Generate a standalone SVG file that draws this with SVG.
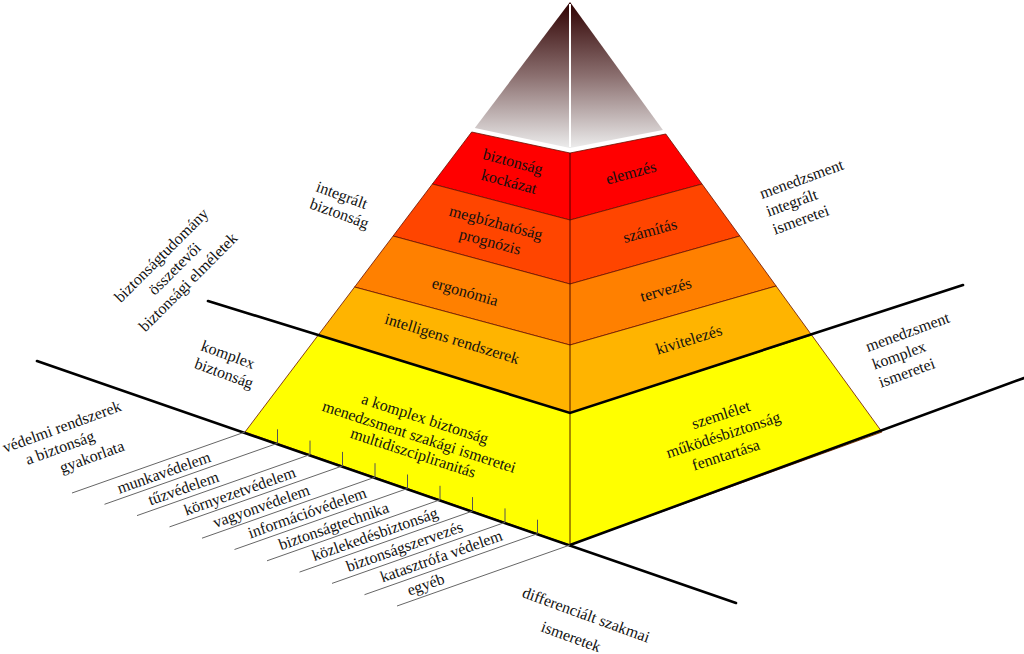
<svg xmlns="http://www.w3.org/2000/svg" width="1024" height="654" viewBox="0 0 1024 654">
<defs>
<linearGradient id="gtop" x1="0" y1="2" x2="0" y2="148" gradientUnits="userSpaceOnUse">
<stop offset="0" stop-color="#2e0000"/>
<stop offset="0.5" stop-color="#8a6e6e"/>
<stop offset="1" stop-color="#ececec"/>
</linearGradient>
<style>
.t{font-family:"Liberation Serif","Times New Roman",serif;font-size:16px;fill:#111}
.m{text-anchor:middle}
.band{stroke:#6a1000;stroke-width:0.8;stroke-linejoin:round}
.heavy{stroke:#000;stroke-width:2.6;fill:none;stroke-linecap:round;stroke-linejoin:miter}
.thin{stroke:#666;stroke-width:1;fill:none}
.tick{stroke:#555;stroke-width:1;fill:none}
</style>
</defs>
<rect width="1024" height="654" fill="#fff"/>

<g id="apex">
<polygon points="570,2 662.9,130 570,148 474.8,128" fill="url(#gtop)"/>
<line x1="570" y1="4" x2="570" y2="147" stroke="#fff" stroke-width="2"/>
</g>

<g id="band-kockazat">
<polygon class="band" points="471.7,132 570,153 665.8,134 702,184 570,220 432.4,184" fill="#ff0000"/>
<text class="t m" transform="translate(511.7,166.8) rotate(15)">biztonság</text>
<text class="t m" transform="translate(507.7,186.8) rotate(15)">kockázat</text>
<text class="t m" transform="translate(632.3,177.8) rotate(-15)">elemzés</text>
</g>

<g id="band-megbizhatosag">
<polygon class="band" points="432.4,184 570,220 702,184 739.8,236 570,284 393.1,236" fill="#ff4500"/>
<text class="t m" transform="translate(494.7,227.8) rotate(15)">megbízhatóság</text>
<text class="t m" transform="translate(488.7,246.8) rotate(15)">prognózis</text>
<text class="t m" transform="translate(651.3,235.8) rotate(-15)">számítás</text>
</g>

<g id="band-ergonomia">
<polygon class="band" points="393.1,236 570,284 739.8,236 776.1,286 570,345 354.6,287" fill="#ff8000"/>
<text class="t m" transform="translate(463.7,296.8) rotate(16)">ergonómia</text>
<text class="t m" transform="translate(667.3,294.8) rotate(-16)">tervezés</text>
</g>

<g id="band-intelligens">
<polygon class="band" points="354.6,287 570,345 776.1,286 811.6,335 570,413 318.3,335" fill="#ffb400"/>
<text class="t m" transform="translate(450.6,343.8) rotate(17)">intelligens rendszerek</text>
<text class="t m" transform="translate(690.4,344.8) rotate(-17)">kivitelezés</text>
</g>

<g id="band-komplex">
<polygon class="band" points="318.3,335 570,413 811.6,335 882,432 570,545 245,432" fill="#ffff00"/>
<text class="t m" transform="translate(423.5,423.8) rotate(18)">a komplex biztonság</text>
<text class="t m" transform="translate(417.5,441.8) rotate(18)">menedzsment szakági ismeretei</text>
<text class="t m" transform="translate(411.5,457.8) rotate(18)">multidiszcipliranitás</text>
<text class="t m" transform="translate(722.5,419.8) rotate(-18)">szemlélet</text>
<text class="t m" transform="translate(725,439.8) rotate(-18)">működésbiztonság</text>
<text class="t m" transform="translate(727.5,459.8) rotate(-18)">fenntartása</text>
</g>

<g id="connectors">
<line x1="570" y1="153" x2="570" y2="545" stroke="#3a0000" stroke-width="0.9"/>
<polyline class="heavy" points="208,301 570,413 963,285"/>
<line class="heavy" x1="37" y1="361" x2="736" y2="603"/>
<line class="heavy" x1="570" y1="545" x2="1024" y2="378"/>
<g class="tick">
<line x1="277.5" y1="443.3" x2="277.5" y2="429.3"/>
<line x1="310" y1="454.6" x2="310" y2="440.6"/>
<line x1="342.5" y1="465.9" x2="342.5" y2="451.9"/>
<line x1="375" y1="477.2" x2="375" y2="463.2"/>
<line x1="407.5" y1="488.5" x2="407.5" y2="474.5"/>
<line x1="440" y1="499.8" x2="440" y2="485.8"/>
<line x1="472.5" y1="511.1" x2="472.5" y2="497.1"/>
<line x1="505" y1="522.4" x2="505" y2="508.4"/>
<line x1="537.5" y1="533.7" x2="537.5" y2="519.7"/>
</g>
<g class="thin">
<line x1="245" y1="432" x2="72" y2="493"/>
<line x1="277.5" y1="443.3" x2="104.5" y2="504.3"/>
<line x1="310" y1="454.6" x2="137" y2="515.6"/>
<line x1="342.5" y1="465.9" x2="169.5" y2="526.9"/>
<line x1="375" y1="477.2" x2="202" y2="538.2"/>
<line x1="407.5" y1="488.5" x2="234.5" y2="549.5"/>
<line x1="440" y1="499.8" x2="267" y2="560.8"/>
<line x1="472.5" y1="511.1" x2="299.5" y2="572.1"/>
<line x1="505" y1="522.4" x2="332" y2="583.4"/>
<line x1="537.5" y1="533.7" x2="364.5" y2="594.7"/>
<line x1="570" y1="545" x2="397" y2="606"/>
</g>
</g>

<g id="list-labels" transform="translate(245,432) rotate(-19.42)">
<text class="t m" x="-90" y="16.5">munkavédelem</text>
<text class="t m" x="-76.8" y="37.9">tűzvédelem</text>
<text class="t m" x="-24.7" y="59.3">környezetvédelem</text>
<text class="t m" x="-9.3" y="80.7">vagyonvédelem</text>
<text class="t m" x="31.8" y="102.1">információvédelem</text>
<text class="t m" x="52.3" y="123.5">biztonságtechnika</text>
<text class="t m" x="88.5" y="144.9">közlekedésbiztonság</text>
<text class="t m" x="112.3" y="166.3">biztonságszervezés</text>
<text class="t m" x="143.8" y="187.7">katasztrófa védelem</text>
<text class="t m" x="119.7" y="209.1">egyéb</text>
</g>

<g id="label-integralt-biztonsag" transform="translate(315,191) rotate(20)">
<text class="t" x="0" y="0">integrált</text>
<text class="t" x="0" y="18">biztonság</text>
</g>

<g id="label-komplex-biztonsag" transform="translate(200,350) rotate(20)">
<text class="t" x="0" y="0">komplex</text>
<text class="t" x="0" y="19">biztonság</text>
</g>

<g id="label-biztonsagtudomany" transform="translate(165,259) rotate(-45)">
<text class="t m" x="0" y="0">biztonságtudomány</text>
<text class="t m" x="0" y="19">összetevői</text>
<text class="t m" x="0" y="38">biztonsági elméletek</text>
</g>

<g id="label-vedelmi">
<text class="t m" transform="translate(63.7,431.7) rotate(-20)">védelmi rendszerek</text>
<text class="t m" transform="translate(61.7,452.7) rotate(-20)">a biztonság</text>
<text class="t m" transform="translate(93.7,461.7) rotate(-20)">gyakorlata</text>
</g>

<g id="label-menedzsment-integralt" transform="translate(762,199) rotate(-20)">
<text class="t" x="0" y="0">menedzsment</text>
<text class="t" x="0" y="19">integrált</text>
<text class="t" x="0" y="38">ismeretei</text>
</g>

<g id="label-menedzsment-komplex" transform="translate(868,352) rotate(-20)">
<text class="t" x="0" y="0">menedzsment</text>
<text class="t" x="0" y="19">komplex</text>
<text class="t" x="0" y="38">ismeretei</text>
</g>

<g id="label-differencialt">
<text class="t m" transform="translate(584.3,619.7) rotate(20)">differenciált szakmai</text>
<text class="t m" transform="translate(569.3,641.7) rotate(20)">ismeretek</text>
</g>
</svg>
